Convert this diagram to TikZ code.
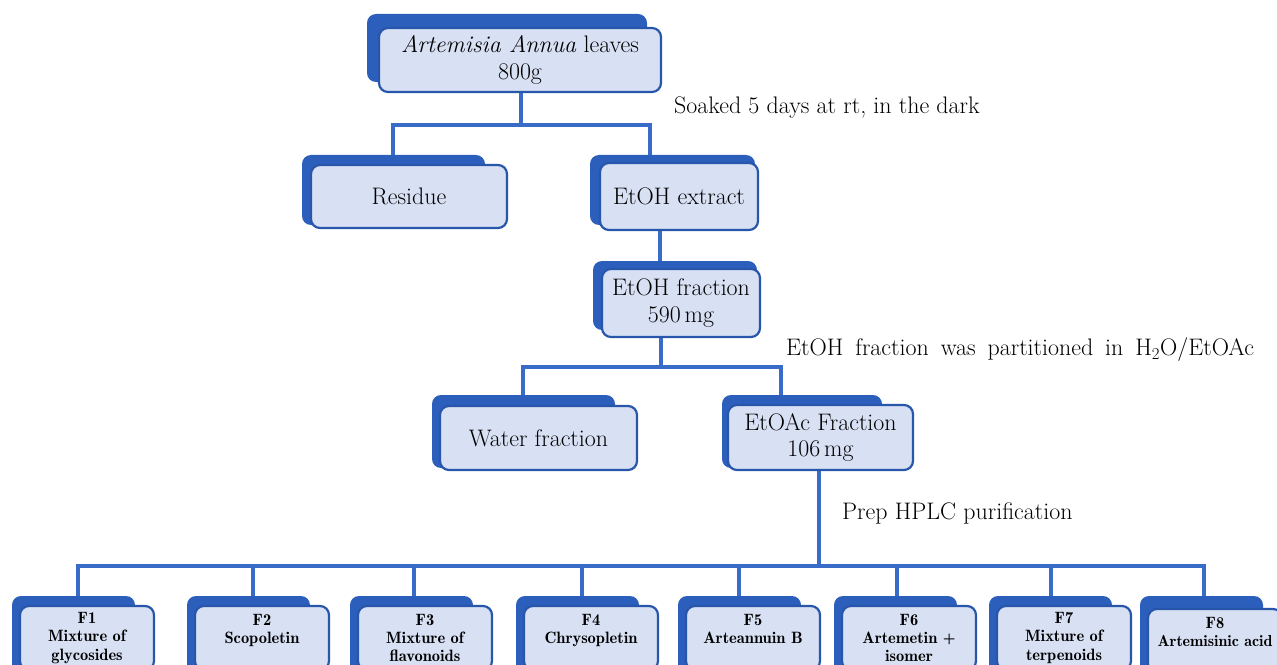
\documentclass[tikz,border=0pt]{standalone}
\usetikzlibrary{calc,backgrounds}
\definecolor{linec}{RGB}{56,108,200}
\definecolor{shadc}{RGB}{44,94,188}
\definecolor{bordc}{RGB}{40,86,170}
\definecolor{fillc}{RGB}{216,224,243}
\tikzset{
 box/.style={draw=bordc, line width=2.2bp, fill=fillc, rounded corners=9bp, align=center, inner sep=0pt, font=\fontsize{24}{27}\selectfont},
 fbox/.style={box, font=\fontsize{16.5}{18.5}\selectfont\fontseries{b}\selectfont, minimum width=134bp, minimum height=64bp},
 shad/.style={fill=shadc, rounded corners=9bp},
 conn/.style={draw=linec, line width=4bp, line join=miter},
 lbl/.style={font=\fontsize{24}{27}\selectfont, inner sep=0pt, anchor=west},
}
\begin{document}
\begin{tikzpicture}[x=1bp,y=-1bp]
\useasboundingbox (0,0) rectangle (1277,665);
\clip (0,0) rectangle (1277,665);

% shadows
\fill[shad] (367,14) rectangle (647,82);
\fill[shad] (302,155) rectangle (485,225);
\fill[shad] (590,155) rectangle (755,225);
\fill[shad] (593,261) rectangle (757,330);
\fill[shad] (432,395) rectangle (615,468);
\fill[shad] (722,395) rectangle (882,468);

% main boxes
\node[box, minimum width=282bp, minimum height=64bp] (top) at (520,60) {\textit{Artemisia Annua} leaves\\800g};
\node[box, minimum width=196bp, minimum height=63bp] (res) at (409,196.5) {Residue};
\node[box, minimum width=158bp, minimum height=67bp] (ext) at (679,196.5) {EtOH extract};
\node[box, minimum width=158bp, minimum height=68bp] (efr) at (681,303) {EtOH fraction\\590\,mg};
\node[box, minimum width=197bp, minimum height=64bp] (wat) at (538.5,438) {Water fraction};
\node[box, minimum width=185bp, minimum height=65bp] (eac) at (820.5,437.5) {EtOAc Fraction\\106\,mg};

% bottom row
\foreach \c in {87,262,425,591,753,909,1064,1215}{
  \fill[shad] (\c-75,596) rectangle (\c+48,680);
}
\node[fbox] (f1) at (87,638) {F1\\Mixture of\\glycosides};
\node[fbox] (f2) at (262,638) {F2\\Scopoletin\\\mbox{}};
\node[fbox] (f3) at (425,638) {F3\\Mixture of\\flavonoids};
\node[fbox] (f4) at (591,638) {F4\\Chrysopletin\\\mbox{}};
\node[fbox] (f5) at (753,638) {F5\\Arteannuin B\\\mbox{}};
\node[fbox] (f6) at (909,638) {F6\\Artemetin +\\isomer};
\node[fbox] (f7) at (1064,638) {F7\\Mixture of\\terpenoids};
\node[fbox] (f8) at (1215,641) {F8\\\fontsize{16}{18.5}\selectfont Artemisinic acid\\\mbox{}};

% labels
\node[lbl] (soak) at (674,108) {Soaked 5 days at rt, in the dark};
\node[lbl] (part) at (786,350) {\spaceskip=0.5em EtOH fraction was partitioned in H\textsubscript{2}O/EtOAc};
\node[lbl] (hplc) at (842,513) {Prep HPLC purification};

% connectors
\coordinate (j1) at (521,125); \coordinate (j1L) at (393,125); \coordinate (j1R) at (650,125);
\coordinate (j2) at (660,245);
\coordinate (j3) at (661,367); \coordinate (j3L) at (523,367); \coordinate (j3R) at (781,367);
\coordinate (j4) at (819,566);
\coordinate (c1) at (78,566); \coordinate (c2) at (253,566); \coordinate (c3) at (414,566);
\coordinate (c4) at (582,566); \coordinate (c5) at (739,566); \coordinate (c6) at (897,566);
\coordinate (c7) at (1051,566); \coordinate (c8) at (1204,566);
\begin{pgfonlayer}{background}
\draw[conn] (top.south -| j1) -- (j1);
\draw[conn] (j1L |- res.north) -- (j1L) -- (j1R) -- (j1R |- ext.north);
\draw[conn] (ext.south -| j2) -- (j2 |- efr.north);
\draw[conn] (efr.south -| j3) -- (j3);
\draw[conn] (j3L |- wat.north) -- (j3L) -- (j3R) -- (j3R |- eac.north);
\draw[conn] (eac.south -| j4) -- (j4);
\draw[conn] (c1 |- f1.north) -- (c1) -- (c8) -- (c8 |- f8.north);
\draw[conn] (c2) -- (c2 |- f2.north);
\draw[conn] (c3) -- (c3 |- f3.north);
\draw[conn] (c4) -- (c4 |- f4.north);
\draw[conn] (c5) -- (c5 |- f5.north);
\draw[conn] (c6) -- (c6 |- f6.north);
\draw[conn] (c7) -- (c7 |- f7.north);
\end{pgfonlayer}
\end{tikzpicture}
\end{document}
